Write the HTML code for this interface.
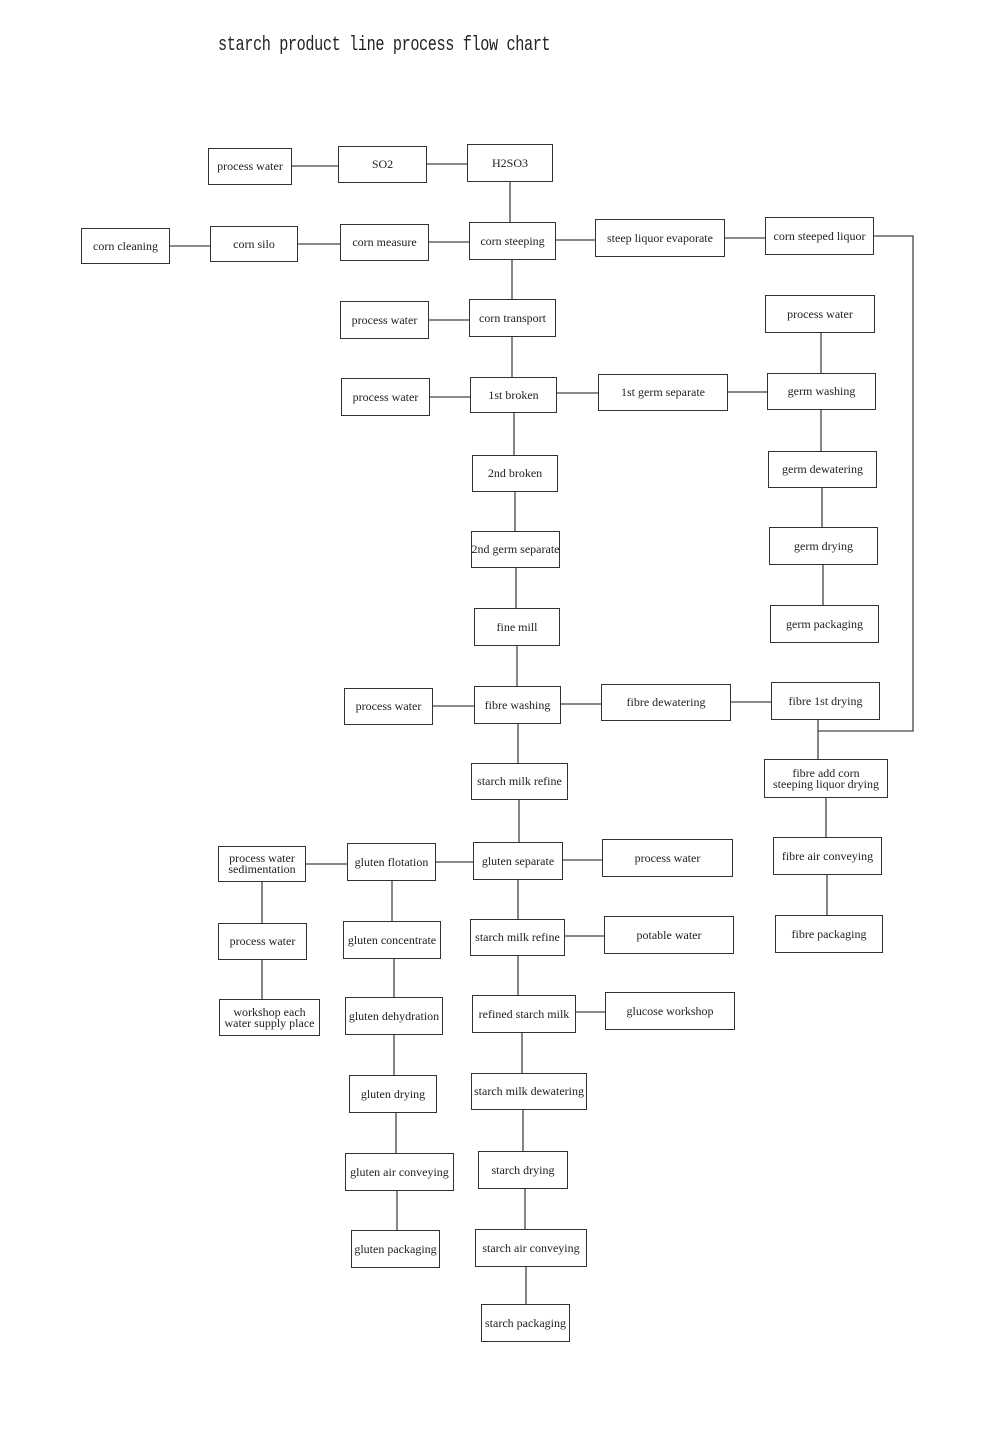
<!DOCTYPE html>
<html><head><meta charset="utf-8"><style>
html,body{margin:0;padding:0;background:#fff;}
#c{position:relative;width:1000px;height:1440px;overflow:hidden;background:#fff;}
.b{position:absolute;border:1.5px solid #333;box-sizing:border-box;display:flex;align-items:center;justify-content:center;text-align:center;font-family:"Liberation Serif",serif;font-size:12px;color:#222;line-height:11px;white-space:nowrap;background:#fff;}
.t{position:absolute;left:218px;top:34px;font-family:"Liberation Mono",monospace;font-size:20px;color:#222;letter-spacing:-0.5px;transform:scaleX(0.76);transform-origin:0 0;white-space:nowrap;}
svg{position:absolute;left:0;top:0;}
</style></head><body><div id="c">
<svg width="1000" height="1440"><g stroke="#444" stroke-width="1.3" fill="none">
<path d="M292 166H338M427 164H467M510 182V222"/>
<path d="M170 246H210M298 244H340M429 242H469M556 240H595M725 238H765M874 236H913V731H818"/>
<path d="M512 260V299M429 320H469M512 337V377M430 397H470M557 393H598M728 392H767M821 333V373M821 410V451M822 488V527M823 565V605"/>
<path d="M514 413V455M515 492V531M516 568V608M517 646V686M433 706H474M561 704H601M731 702H771"/>
<path d="M818 720V759M826 798V837M827 875V915"/>
<path d="M518 724V763M519 800V842M306 864H347M436 862H473M563 860H602M262 882V923M262 960V999"/>
<path d="M392 881V921M394 959V997M394 1035V1075M396 1113V1153M397 1191V1230"/>
<path d="M518 880V919M565 936H604M518 956V995M576 1012H605M522 1033V1073M523 1110V1151M525 1189V1229M526 1267V1304"/>
</g></svg>
<div class="t">starch product line process flow chart</div>
<div class="b" style="left:208px;top:148px;width:84px;height:37px">process water</div>
<div class="b" style="left:338px;top:146px;width:89px;height:37px">SO2</div>
<div class="b" style="left:467px;top:144px;width:86px;height:38px">H2SO3</div>
<div class="b" style="left:81px;top:228px;width:89px;height:36px">corn cleaning</div>
<div class="b" style="left:210px;top:226px;width:88px;height:36px">corn silo</div>
<div class="b" style="left:340px;top:224px;width:89px;height:37px">corn measure</div>
<div class="b" style="left:469px;top:222px;width:87px;height:38px">corn steeping</div>
<div class="b" style="left:595px;top:219px;width:130px;height:38px">steep liquor evaporate</div>
<div class="b" style="left:765px;top:217px;width:109px;height:38px">corn steeped liquor</div>
<div class="b" style="left:340px;top:301px;width:89px;height:38px">process water</div>
<div class="b" style="left:469px;top:299px;width:87px;height:38px">corn transport</div>
<div class="b" style="left:765px;top:295px;width:110px;height:38px">process water</div>
<div class="b" style="left:341px;top:378px;width:89px;height:38px">process water</div>
<div class="b" style="left:470px;top:377px;width:87px;height:36px">1st broken</div>
<div class="b" style="left:598px;top:374px;width:130px;height:37px">1st germ separate</div>
<div class="b" style="left:767px;top:373px;width:109px;height:37px">germ washing</div>
<div class="b" style="left:472px;top:455px;width:86px;height:37px">2nd broken</div>
<div class="b" style="left:768px;top:451px;width:109px;height:37px">germ dewatering</div>
<div class="b" style="left:471px;top:531px;width:89px;height:37px">2nd germ separate</div>
<div class="b" style="left:769px;top:527px;width:109px;height:38px">germ drying</div>
<div class="b" style="left:474px;top:608px;width:86px;height:38px">fine mill</div>
<div class="b" style="left:770px;top:605px;width:109px;height:38px">germ packaging</div>
<div class="b" style="left:344px;top:688px;width:89px;height:37px">process water</div>
<div class="b" style="left:474px;top:686px;width:87px;height:38px">fibre washing</div>
<div class="b" style="left:601px;top:684px;width:130px;height:37px">fibre dewatering</div>
<div class="b" style="left:771px;top:682px;width:109px;height:38px">fibre 1st drying</div>
<div class="b" style="left:471px;top:763px;width:97px;height:37px">starch milk refine</div>
<div class="b" style="left:764px;top:759px;width:124px;height:39px">fibre add corn<br>steeping liquor drying</div>
<div class="b" style="left:218px;top:846px;width:88px;height:36px">process water<br>sedimentation</div>
<div class="b" style="left:347px;top:843px;width:89px;height:38px">gluten flotation</div>
<div class="b" style="left:473px;top:842px;width:90px;height:38px">gluten separate</div>
<div class="b" style="left:602px;top:839px;width:131px;height:38px">process water</div>
<div class="b" style="left:773px;top:837px;width:109px;height:38px">fibre air conveying</div>
<div class="b" style="left:218px;top:923px;width:89px;height:37px">process water</div>
<div class="b" style="left:343px;top:921px;width:98px;height:38px">gluten concentrate</div>
<div class="b" style="left:470px;top:919px;width:95px;height:37px">starch milk refine</div>
<div class="b" style="left:604px;top:916px;width:130px;height:38px">potable water</div>
<div class="b" style="left:775px;top:915px;width:108px;height:38px">fibre packaging</div>
<div class="b" style="left:219px;top:999px;width:101px;height:37px">workshop each<br>water supply place</div>
<div class="b" style="left:345px;top:997px;width:98px;height:38px">gluten dehydration</div>
<div class="b" style="left:472px;top:995px;width:104px;height:38px">refined starch milk</div>
<div class="b" style="left:605px;top:992px;width:130px;height:38px">glucose workshop</div>
<div class="b" style="left:349px;top:1075px;width:88px;height:38px">gluten drying</div>
<div class="b" style="left:471px;top:1073px;width:116px;height:37px">starch milk dewatering</div>
<div class="b" style="left:345px;top:1153px;width:109px;height:38px">gluten air conveying</div>
<div class="b" style="left:478px;top:1151px;width:90px;height:38px">starch drying</div>
<div class="b" style="left:351px;top:1230px;width:89px;height:38px">gluten packaging</div>
<div class="b" style="left:475px;top:1229px;width:112px;height:38px">starch air conveying</div>
<div class="b" style="left:481px;top:1304px;width:89px;height:38px">starch packaging</div>
</div></body></html>
